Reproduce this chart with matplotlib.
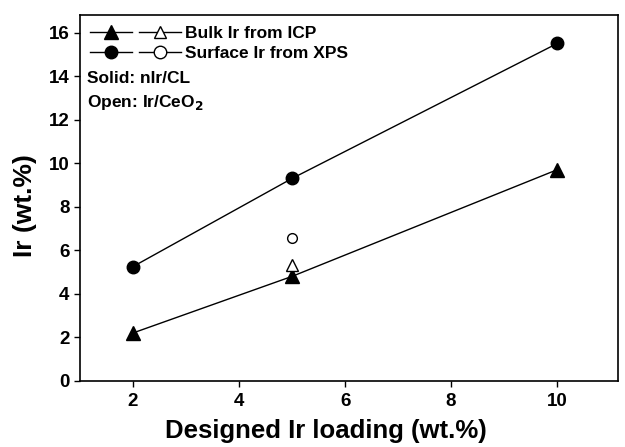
import matplotlib
matplotlib.use('Agg')
import matplotlib.pyplot as plt
from matplotlib.legend_handler import HandlerTuple

plt.rcParams['font.family'] = ['Liberation Sans', 'DejaVu Sans']
plt.rcParams['font.weight'] = 'bold'

# Designed Ir loading (wt.%)
loading = [2, 5, 10]
# nIr/CL (solid markers)
bulk_icp = [2.2, 4.8, 9.7]
surface_xps = [5.25, 9.3, 15.5]
# Ir/CeO2 (open markers)
open_loading = [5]
open_bulk = [5.3]
open_surface = [6.55]

fig = plt.figure(figsize=(6.25, 4.47), dpi=100)
ax = fig.add_axes([0.128, 0.148, 0.861, 0.818])

solid_tri, = ax.plot(loading, bulk_icp, '-^', color='black', lw=1, ms=9.5,
                     mfc='black', mec='black')
solid_cir, = ax.plot(loading, surface_xps, '-o', color='black', lw=1, ms=9,
                     mfc='black', mec='black')
ax.plot(open_loading, open_bulk, '^', ms=9, mfc='white', mec='black', mew=1)
ax.plot(open_loading, open_surface, 'o', ms=7, mfc='white', mec='black', mew=1)

# legend handles
open_tri, = ax.plot([], [], '-^', color='black', lw=1, ms=9, mfc='white', mec='black')
open_cir, = ax.plot([], [], '-o', color='black', lw=1, ms=9, mfc='white', mec='black')

leg = ax.legend([(solid_tri, open_tri), (solid_cir, open_cir)],
                ['Bulk Ir from ICP', 'Surface Ir from XPS'],
                handler_map={tuple: HandlerTuple(ndivide=None, pad=0.45)},
                loc='upper left', frameon=False, fontsize=12.5,
                handlelength=5.2, handletextpad=0.25, borderaxespad=0.15,
                borderpad=0.45, labelspacing=0.32)
ax.text(0.013, 0.826, 'Solid: nIr/CL', transform=ax.transAxes, fontsize=12.5,
        fontweight='bold', va='center')
ax.text(0.013, 0.760, 'Open: Ir/CeO$_\\mathbf{2}$', transform=ax.transAxes,
        fontsize=12.5, fontweight='bold', va='center')

ax.set_xlim(1, 11.15)
ax.set_ylim(0, 16.8)
ax.set_xticks([2, 4, 6, 8, 10])
ax.set_yticks([0, 2, 4, 6, 8, 10, 12, 14, 16])
ax.tick_params(direction='out', length=4, width=1, labelsize=13.5)
ax.tick_params(axis='x', pad=5)
for lab in ax.get_xticklabels() + ax.get_yticklabels():
    lab.set_fontweight('bold')
for sp in ax.spines.values():
    sp.set_linewidth(1.2)

ax.set_xlabel('Designed Ir loading (wt.%)', fontsize=18.5, fontweight='bold')
ax.xaxis.set_label_coords(0.457, -0.105)
ax.set_ylabel('Ir (wt.%)', fontsize=19, fontweight='bold')
ax.yaxis.set_label_coords(-0.08, 0.48)

fig.savefig('out.png', dpi=100)
